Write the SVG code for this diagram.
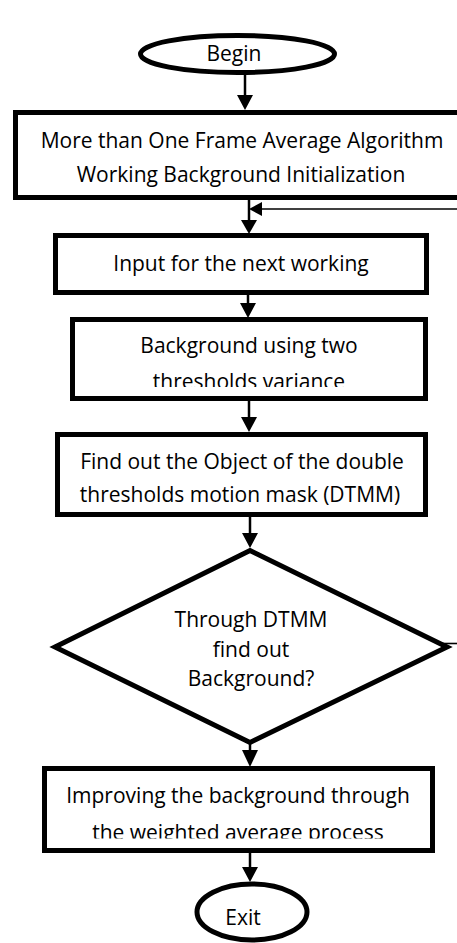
<svg xmlns="http://www.w3.org/2000/svg" width="457" height="943" viewBox="0 0 457 943">
  <style>
    .shape { fill: #ffffff; stroke: #000000; stroke-width: 5; }
    .conn { stroke: #000000; stroke-width: 2.5; fill: none; }
    .thin { stroke: #000000; stroke-width: 1.6; fill: none; }
    .head { fill: #000000; stroke: none; }
    text { font-family: "Open Sans", "Liberation Sans", sans-serif; font-size: 21px; fill: #000000; text-anchor: middle; }
  </style>
  <defs>
    <clipPath id="clip3"><rect x="0" y="0" width="457" height="387"/></clipPath>
    <clipPath id="clip5"><rect x="0" y="0" width="457" height="838.5"/></clipPath>
  </defs>

  <g id="connectors">
    <line class="conn" x1="245" y1="75" x2="245" y2="97"/>
    <polygon class="head" points="237,95 253,95 245,110"/>

    <line class="conn" x1="249" y1="198" x2="249" y2="222"/>
    <polygon class="head" points="241,220 257,220 249,234"/>
    <line class="thin" x1="260" y1="209" x2="457" y2="209"/>
    <polygon class="head" points="249,209 262,202 262,216"/>

    <line class="conn" x1="248" y1="292" x2="248" y2="305"/>
    <polygon class="head" points="240,303 256,303 248,318"/>

    <line class="conn" x1="249" y1="399" x2="249" y2="419"/>
    <polygon class="head" points="241,417 257,417 249,432"/>

    <line class="conn" x1="250" y1="515" x2="250" y2="535"/>
    <polygon class="head" points="242,533 258,533 250,548"/>

    <line class="thin" x1="432" y1="643.5" x2="457" y2="643.5"/>

    <line class="conn" x1="250" y1="742" x2="250" y2="752"/>
    <polygon class="head" points="242,750 258,750 250,767"/>

    <line class="conn" x1="250" y1="851" x2="250" y2="869"/>
    <polygon class="head" points="242,867 258,867 250,882"/>
  </g>

  <g id="begin">
    <ellipse class="shape" cx="237.5" cy="54" rx="97" ry="18.5"/>
    <text x="234" y="61">Begin</text>
  </g>

  <g id="init">
    <rect class="shape" x="15.5" y="112.5" width="450" height="85"/>
    <text x="242" y="148">More than One Frame Average Algorithm</text>
    <text x="241" y="182">Working Background Initialization</text>
  </g>

  <g id="input">
    <rect class="shape" x="55.5" y="235.5" width="371" height="57"/>
    <text x="241" y="271">Input for the next working</text>
  </g>

  <g id="variance">
    <rect class="shape" x="72.5" y="319.5" width="353" height="79"/>
    <text x="249" y="353">Background using two</text>
    <text x="249" y="389" clip-path="url(#clip3)">thresholds variance</text>
  </g>

  <g id="dtmm">
    <rect class="shape" x="57.5" y="434.5" width="368" height="80"/>
    <text x="242" y="468.5">Find out the Object of the double</text>
    <text x="240" y="501.5">thresholds motion mask (DTMM)</text>
  </g>

  <g id="decision">
    <polygon class="shape" points="250,550.5 447,647 250,742.5 55,647"/>
    <text x="251" y="626.5">Through DTMM</text>
    <text x="251" y="656.5">find out</text>
    <text x="251" y="686">Background?</text>
  </g>

  <g id="improve">
    <rect class="shape" x="44.5" y="768.5" width="388" height="82"/>
    <text x="238" y="803">Improving the background through</text>
    <text x="238" y="840" clip-path="url(#clip5)">the weighted average process</text>
  </g>

  <g id="exit">
    <ellipse class="shape" cx="252" cy="912" rx="55" ry="28"/>
    <text x="243" y="925">Exit</text>
  </g>
</svg>
